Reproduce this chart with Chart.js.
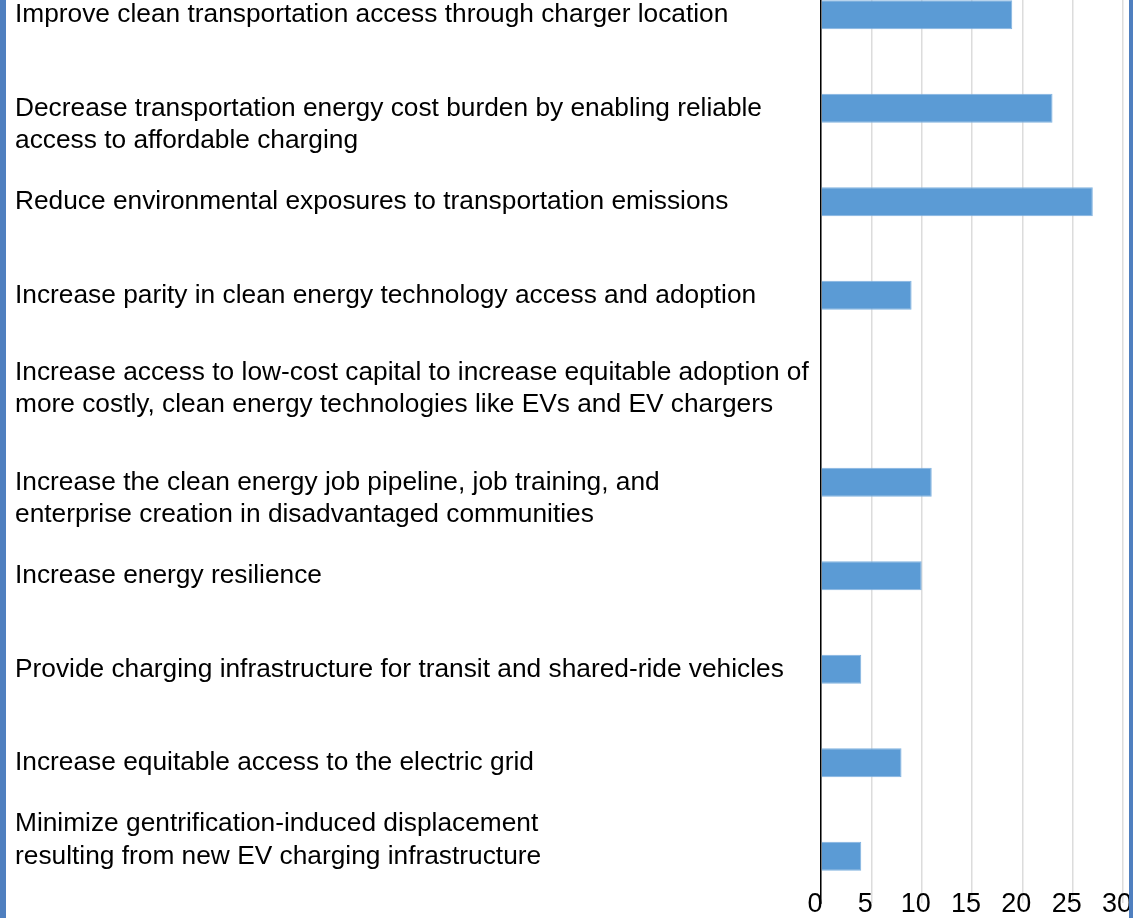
<!DOCTYPE html>
<html lang="en">
<head>
    <meta charset="UTF-8">
    <title>Equity goals</title>
    <style>
        html, body {
            margin: 0;
            padding: 0;
            width: 1133px;
            height: 918px;
            overflow: hidden;
            background: #ffffff;
        }
        #wrap {
            position: absolute;
            left: 0;
            top: -32px; /* the top of the chart is cut off in the original */
            width: 1133px;
            height: 955px;
        }
        .edge {
            position: absolute;
            top: 0;
            height: 918px;
            background: #4f7fbf;
            z-index: 2;
        }
    </style>
</head>
<body>
    <div class="edge" style="left:0; width:6px;"></div>
    <div class="edge" style="left:1129px; width:4px;"></div>
    <div id="wrap"><canvas id="grafico"></canvas></div>

    <script src="https://cdn.jsdelivr.net/npm/chart.js"></script>
    <script>
        // categories (top to bottom)
        var categories = [
            ['Improve clean transportation access through charger location'],
            ['Decrease transportation energy cost burden by enabling reliable', 'access to affordable charging'],
            ['Reduce environmental exposures to transportation emissions'],
            ['Increase parity in clean energy technology access and adoption'],
            ['Increase access to low-cost capital to increase equitable adoption of', 'more costly, clean energy technologies like EVs and EV chargers'],
            ['Increase the clean energy job pipeline, job training, and', 'enterprise creation in disadvantaged communities'],
            ['Increase energy resilience'],
            ['Provide charging infrastructure for transit and shared-ride vehicles'],
            ['Increase equitable access to the electric grid'],
            ['Minimize gentrification-induced displacement', 'resulting from new EV charging infrastructure']
        ];
        var values = [19, 23, 27, 9, 0, 11, 10, 4, 8, 4];
        var xTicks = [0, 5, 10, 15, 20, 25, 30];

        // where the text block sits against its bar in the original
        var anchor = ['mid', 'top', 'mid', 'mid', 'mid', 'top', 'mid', 'mid', 'mid', 'bottom'];
        var labels = categories.map(function (lines, i) {
            if (lines.length < 2) return lines[0];
            if (anchor[i] === 'top') return [''].concat(lines);
            if (anchor[i] === 'bottom') return lines.concat(['']);
            return lines;
        });

        var ctx = document.getElementById('grafico').getContext('2d');
        new Chart(ctx, {
            type: 'bar',
            data: {
                labels: labels,
                datasets: [{
                    data: values,
                    backgroundColor: '#5b9bd5',
                    borderColor: '#82b3e0',
                    borderWidth: 1,
                    categoryPercentage: 1,
                    barPercentage: 0.31
                }]
            },
            options: {
                indexAxis: 'y',
                responsive: true,
                maintainAspectRatio: false,
                animation: false,
                layout: {
                    padding: { left: 15, right: 10, top: 0, bottom: 0 }
                },
                plugins: {
                    legend: { display: false },
                    tooltip: { enabled: false }
                },
                scales: {
                    x: {
                        min: 0,
                        max: 30,
                        afterBuildTicks: function (scale) {
                            scale.ticks = xTicks.map(function (v) { return { value: v }; });
                        },
                        afterFit: function (scale) {
                            scale.height = 20;
                            scale.paddingLeft = 0;
                            scale.paddingRight = 0;
                        },
                        grid: {
                            color: '#dcdcdc',
                            lineWidth: 1.5,
                            drawTicks: false
                        },
                        border: { display: false },
                        ticks: {
                            color: '#000000',
                            mirror: true, // labels sit over the bottom of the plot, as in the original
                            padding: -18,
                            labelOffset: -6,
                            autoSkip: false,
                            maxRotation: 0,
                            font: { family: 'Liberation Sans, Arial, sans-serif', size: 27 }
                        }
                    },
                    y: {
                        afterFit: function (scale) {
                            scale.width = 806;
                            scale.paddingTop = 0;
                            scale.paddingBottom = 0;
                        },
                        grid: { display: false, drawTicks: false },
                        border: { display: true, color: '#000000', width: 1.5 },
                        ticks: {
                            color: '#000000',
                            crossAlign: 'far',
                            padding: 0,
                            autoSkip: false,
                            font: { family: 'Liberation Sans, Arial, sans-serif', size: 26.3, lineHeight: 1.22 }
                        }
                    }
                }
            }
        });
    </script>
</body>
</html>
